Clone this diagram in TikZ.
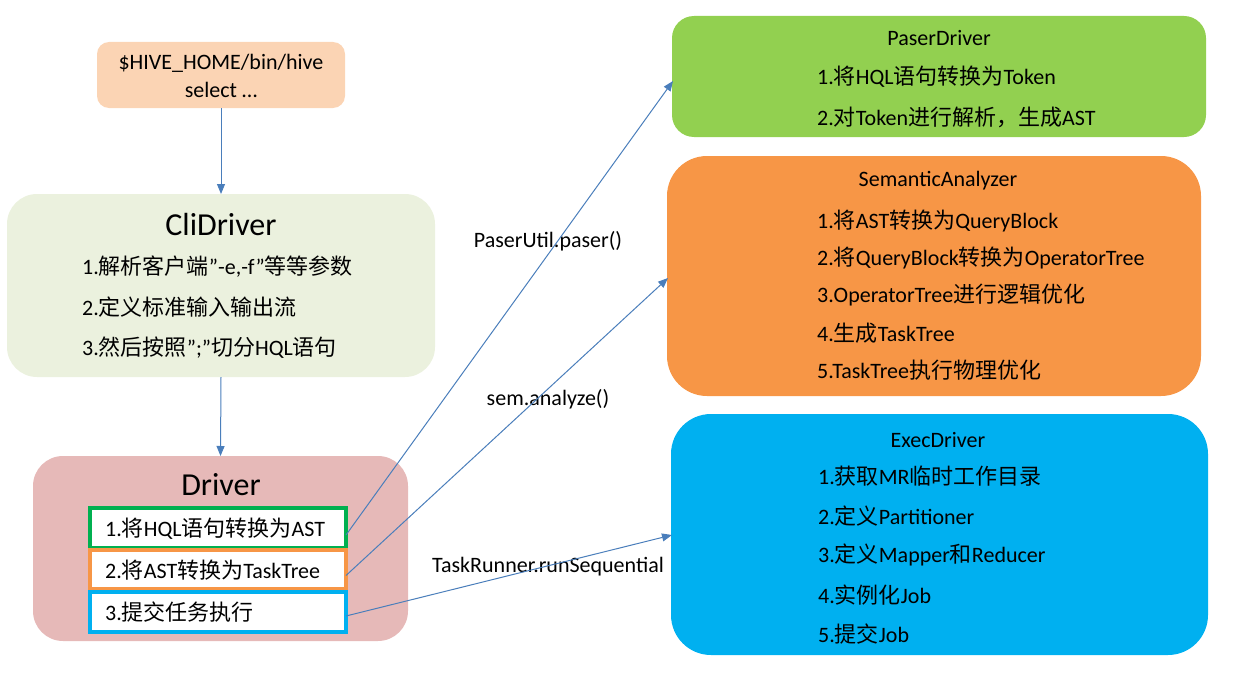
\documentclass[tikz,border=0pt]{standalone}
\usepackage{fontspec}
\setmainfont{Carlito}
\newfontfamily\zhfont{Noto Sans CJK SC}
\newcommand\zh[1]{{\zhfont #1}}
\usetikzlibrary{arrows.meta}
\definecolor{hivec}{HTML}{FBD4B4}
\definecolor{clic}{HTML}{EBF1DE}
\definecolor{drvc}{HTML}{E6B9B8}
\definecolor{grnc}{HTML}{00B050}
\definecolor{orgc}{HTML}{F79646}
\definecolor{bluc}{HTML}{00B0F0}
\definecolor{limec}{HTML}{92D050}
\definecolor{arrc}{HTML}{4A7EBB}
\begin{document}
\begin{tikzpicture}[x=1pt,y=-1pt,
  box/.style={rounded corners=#1, draw=none, inner sep=0pt, outer sep=0pt, anchor=north west},
  inbox/.style={draw=#1, line width=3.5pt, fill=white, inner sep=0pt, outer sep=0pt, anchor=north west, minimum width=256pt, minimum height=40pt},
  txt/.style={inner sep=0pt, font=\fontsize{22}{26}\selectfont},
  ltxt/.style={txt, anchor=west},
  big/.style={inner sep=0pt, font=\fontsize{32}{36}\selectfont},
  conn/.style={draw=arrc, line width=1pt, -{Triangle[length=10pt,width=8pt]}}
]
\useasboundingbox (0,0) rectangle (1245,677);
% left column boxes
\node[box=12pt, fill=hivec, minimum width=248pt, minimum height=66pt] (hive) at (97,42) {};
\node[txt] (hiveA) at (221,63) {\$HIVE\_HOME/bin/hive};
\node[txt] (hiveB) at (221,90) {select …};

\node[box=30pt, fill=clic, minimum width=428pt, minimum height=183pt] (cli) at (7,194) {};
\node[big] (cliT) at (221,224) {CliDriver};
\node[ltxt] (cli1) at (82,267) {1.\zh{解析客户端}”-e,-f”\zh{等等参数}};
\node[ltxt] (cli2) at (82,307) {2.\zh{定义标准输入输出流}};
\node[ltxt] (cli3) at (82,348) {3.\zh{然后按照}”;”\zh{切分}HQL\zh{语句}};

\node[box=30pt, fill=drvc, minimum width=375pt, minimum height=185pt] (drv) at (33,456) {};
\node[big] (drvT) at (221,485) {Driver};
\node[inbox=grnc] (g) at (90,508) {};
\node[inbox=orgc, minimum height=39pt] (o) at (90,550) {};
\node[inbox=bluc] (b) at (90,592) {};
\node[ltxt] (g1) at (105,529) {1.\zh{将}HQL\zh{语句转换为}AST};
\node[ltxt] (o1) at (105,570) {2.\zh{将}AST\zh{转换为}TaskTree};
\node[ltxt] (b1) at (105,612) {3.\zh{提交任务执行}};

% right column boxes
\node[box=22pt, fill=limec, minimum width=534pt, minimum height=121pt] (pd) at (672,16) {};
\node[txt] (pdT) at (939,38) {PaserDriver};
\node[ltxt] (pd1) at (817,77) {1.\zh{将}HQL\zh{语句转换为}Token};
\node[ltxt] (pd2) at (817,117) {2.\zh{对}Token\zh{进行解析，生成}AST};

\node[box=40pt, fill=orgc, minimum width=534pt, minimum height=240pt] (sa) at (667,156) {};
\node[txt] (saT) at (938,181) {SemanticAnalyzer};
\node[ltxt] (sa1) at (817,221) {1.\zh{将}AST\zh{转换为}QueryBlock};
\node[ltxt] (sa2) at (817,258) {2.\zh{将}QueryBlock\zh{转换为}OperatorTree};
\node[ltxt] (sa3) at (817,295) {3.OperatorTree\zh{进行逻辑优化}};
\node[ltxt] (sa4) at (817,333) {4.\zh{生成}TaskTree};
\node[ltxt] (sa5) at (817,370) {5.TaskTree\zh{执行物理优化}};

\node[box=40pt, fill=bluc, minimum width=537pt, minimum height=241pt] (ed) at (671,414) {};
\node[txt] (edT) at (938,440) {ExecDriver};
\node[ltxt] (ed1) at (818,476) {1.\zh{获取}MR\zh{临时工作目录}};
\node[ltxt] (ed2) at (818,516) {2.\zh{定义}Partitioner};
\node[ltxt] (ed3) at (818,555) {3.\zh{定义}Mapper\zh{和}Reducer};
\node[ltxt] (ed4) at (818,595) {4.\zh{实例化}Job};
\node[ltxt] (ed5) at (818,634) {5.\zh{提交}Job};

% connector labels
\node[txt] (l1) at (548,241) {PaserUtil.paser()};
\node[txt] (l2) at (548,399) {sem.analyze()};
\node[txt] (l3) at (548,567) {TaskRunner.runSequential};

% connectors
\coordinate (t1) at (673,81);
\coordinate (t2) at (668,278);
\coordinate (t3) at (672,535);
\draw[conn] (hive.south) -- (cli.north);
\draw[conn] (cli.south) -- (drv.north);
\draw[conn] ([yshift=-7pt]g.east) -- (t1);
\draw[conn] ([yshift=-6pt]o.east) -- (t2);
\draw[conn] ([yshift=-4pt]b.east) -- (t3);
\end{tikzpicture}
\end{document}
